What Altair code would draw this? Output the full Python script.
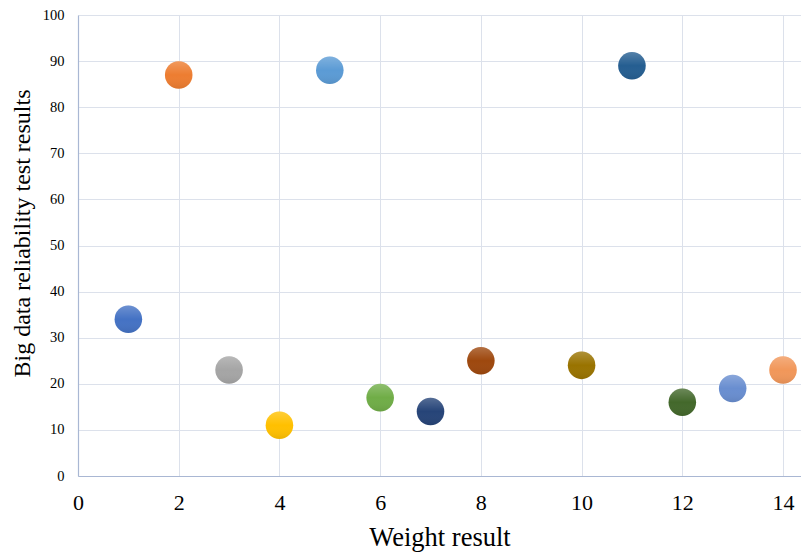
import altair as alt
import pandas as pd

weights = [1, 2, 3, 4, 5, 6, 7, 8, 10, 11, 12, 13, 14]
reliability = [34, 87, 23, 11, 88, 17, 14, 25, 24, 89, 16, 19, 23]
colors = ["#4472C4", "#ED7D31", "#A5A5A5", "#FFC000", "#5B9BD5", "#70AD47",
          "#264478", "#9E480E", "#997300", "#255E91", "#43682B", "#698ED0", "#F1975A"]
x_ticks = [0, 2, 4, 6, 8, 10, 12, 14]
y_ticks = [0, 10, 20, 30, 40, 50, 60, 70, 80, 90, 100]

df = pd.DataFrame({"w": weights, "r": reliability, "id": [str(i) for i in range(len(weights))]})

FONT = "Liberation Serif"

x_enc = alt.X("w:Q", scale=alt.Scale(domain=[0, 14.357], nice=False, zero=True),
              axis=alt.Axis(title="Weight result", values=x_ticks, format="d",
                            labelFontSize=22, titleFontSize=26.5, labelPadding=16,
                            titlePadding=11, ticks=False, labelFlush=False))
y_enc = alt.Y("r:Q", scale=alt.Scale(domain=[0, 100], nice=False),
              axis=alt.Axis(title="Big data reliability test results", values=y_ticks,
                            labelFontSize=14.5, titleFontSize=24, labelPadding=14,
                            titlePadding=8, titleY=218, ticks=False))

base = alt.Chart(df)

points = base.mark_circle(size=760, opacity=1).encode(
    x=x_enc, y=y_enc,
    color=alt.Color("id:N", scale=alt.Scale(domain=df["id"].tolist(), range=colors), legend=None),
)

shade = alt.Gradient(
    gradient="linear", x1=0, x2=0, y1=0, y2=1,
    stops=[alt.GradientStop(color="rgba(255,255,255,0.22)", offset=0),
           alt.GradientStop(color="rgba(255,255,255,0.0)", offset=0.5),
           alt.GradientStop(color="rgba(0,0,0,0.08)", offset=1)],
)
overlay = base.mark_point(size=760, filled=True, fill=shade, strokeWidth=0, opacity=1).encode(
    x="w:Q", y="r:Q"
)

chart = alt.layer(points, overlay).properties(
    width=723, height=461,
    background="white",
    autosize=alt.AutoSizeParams(type="none"),
    padding={"left": 78, "top": 15, "right": 0, "bottom": 77},
).configure_axis(
    labelFont=FONT, titleFont=FONT, labelColor="#000000", titleColor="#000000",
    titleFontWeight="normal", domainColor="#A9B7D3", domainWidth=1.2,
    gridColor="#DCE1EB", gridWidth=1,
).configure_view(stroke=None)

chart.save("out.html", embed_options={"renderer": "svg", "actions": False})
